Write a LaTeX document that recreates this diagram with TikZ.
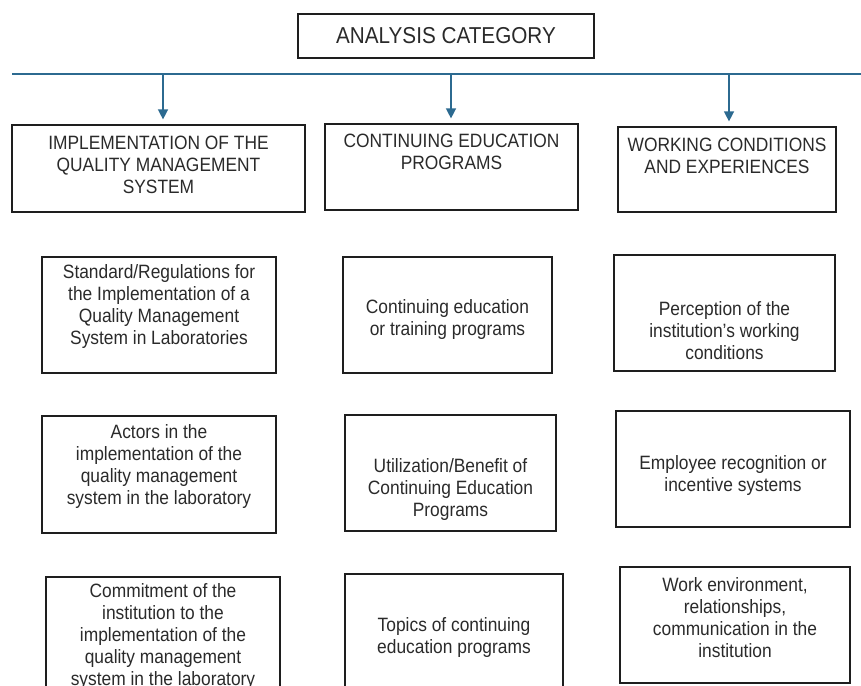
\documentclass[tikz,border=0pt]{standalone}
\usepackage{fontspec}
\setmainfont{Liberation Sans}[FakeStretch=0.9]
\usetikzlibrary{arrows.meta,positioning}

\definecolor{busblue}{HTML}{2C6A90}
\definecolor{ink}{HTML}{1E1E1E}
\definecolor{txtgray}{HTML}{2A2A2A}

\tikzset{
  catbox/.style={draw=ink, line width=1.2pt, rectangle, inner sep=0pt},
  itemtext/.style={text=txtgray, align=center, inner sep=0pt, font=\fontsize{19.3}{22}\selectfont},
  bus/.style={busblue, line width=1.8pt},
  busarrow/.style={busblue, line width=1.4pt, -{Triangle[width=10pt,length=10pt]}, shorten >=5pt}
}

\begin{document}
\begin{tikzpicture}[x=1pt, y=-1pt]
\useasboundingbox (0,0) rectangle (861,685);

% title
\node[catbox, minimum width=296pt, minimum height=44pt] (cat) at (446,36) {};
\node[itemtext, font=\fontsize{23}{26}\selectfont] (cat-t) at (446,36) {ANALYSIS CATEGORY};

% bus line and the three branches
\coordinate (bus-l) at (12,74);
\coordinate (bus-r) at (861,74);
\draw[bus] (bus-l) -- (bus-r);

% category headers
\node[catbox, minimum width=293pt, minimum height=87pt] (qms) at (158.5,168.5) {};
\node[itemtext] (qms-t) at (158.5,164.5) {IMPLEMENTATION OF THE\\QUALITY MANAGEMENT\\SYSTEM};
\node[catbox, minimum width=253pt, minimum height=86pt] (edu) at (451.5,167) {};
\node[itemtext] (edu-t) at (451.5,152) {CONTINUING EDUCATION\\PROGRAMS};
\node[catbox, minimum width=218pt, minimum height=85pt] (work) at (727,169.5) {};
\node[itemtext] (work-t) at (727,156) {WORKING CONDITIONS\\AND EXPERIENCES};

\draw[busarrow] ([xshift=4.5pt]qms.north |- bus-l) -- ([xshift=4.5pt]qms.north);
\draw[busarrow] ([xshift=-0.5pt]edu.north |- bus-l) -- ([xshift=-0.5pt]edu.north);
\draw[busarrow] ([xshift=2pt]work.north |- bus-l) -- ([xshift=2pt]work.north);

% quality management column
\node[catbox, minimum width=234pt, minimum height=116pt] (qms-a) at (159,315) {};
\node[itemtext] (qms-a-t) at (159,307) {Standard/Regulations for\\the Implementation of a\\Quality Management\\System in Laboratories};
\node[catbox, minimum width=234pt, minimum height=117pt] (qms-b) at (159,474.5) {};
\node[itemtext] (qms-b-t) at (159,467) {Actors in the\\implementation of the\\quality management\\system in the laboratory};
\node[catbox, minimum width=234pt, minimum height=124pt] (qms-c) at (163,639) {};
\node[itemtext] (qms-c-t) at (163,636.5) {Commitment of the\\institution to the\\implementation of the\\quality management\\system in the laboratory};

% continuing education column
\node[catbox, minimum width=209pt, minimum height=116pt] (edu-a) at (447.5,315) {};
\node[itemtext] (edu-a-t) at (447.5,319.5) {Continuing education\\or training programs};
\node[catbox, minimum width=211pt, minimum height=116pt] (edu-b) at (450.5,473) {};
\node[itemtext] (edu-b-t) at (450.5,490) {Utilization/Benefit of\\Continuing Education\\Programs};
\node[catbox, minimum width=218pt, minimum height=120pt] (edu-c) at (454,634) {};
\node[itemtext] (edu-c-t) at (454,638) {Topics of continuing\\education programs};

% working conditions column
\node[catbox, minimum width=221pt, minimum height=116pt] (work-a) at (724.5,313) {};
\node[itemtext] (work-a-t) at (724.5,330.5) {Perception of the\\institution's working\\conditions};
\node[catbox, minimum width=234pt, minimum height=116pt] (work-b) at (733,469) {};
\node[itemtext] (work-b-t) at (733,475.5) {Employee recognition or\\incentive systems};
\node[catbox, minimum width=230pt, minimum height=116pt] (work-c) at (735,625) {};
\node[itemtext] (work-c-t) at (735,617.5) {Work environment,\\relationships,\\communication in the\\institution};
\end{tikzpicture}
\end{document}
